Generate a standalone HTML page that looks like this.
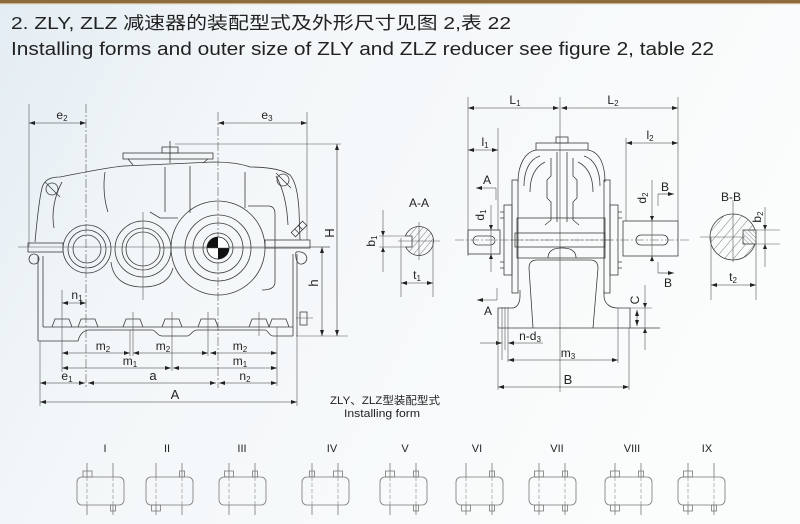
<!DOCTYPE html>
<html><head><meta charset="utf-8">
<style>
html,body{margin:0;padding:0;}
body{width:800px;height:524px;overflow:hidden;background:#f8fafb;}
svg{display:block;}
text{font-family:"Liberation Sans","Noto Sans CJK SC",sans-serif;fill:#222;}
.l{fill:none;stroke:#3c3c3c;stroke-width:0.8;}
.t{fill:none;stroke:#555;stroke-width:0.6;}
.c{fill:none;stroke:#555;stroke-width:0.6;stroke-dasharray:9 2 2 2;}
.d{fill:none;stroke:#333;stroke-width:0.6;}
.g{fill:none;stroke:#777;stroke-width:0.8;}
.gd{fill:none;stroke:#888;stroke-width:0.6;stroke-dasharray:4 2;}
</style></head><body>
<svg width="800" height="524" viewBox="0 0 800 524" xmlns="http://www.w3.org/2000/svg">
<defs>
<linearGradient id="bg" x1="0" y1="0" x2="1" y2="0.35">
 <stop offset="0" stop-color="#e4edf3"/>
 <stop offset="0.35" stop-color="#f3f7f9"/>
 <stop offset="1" stop-color="#fbfcfc"/>
</linearGradient>
<marker id="ar" markerWidth="6" markerHeight="4" refX="6" refY="2" orient="auto-start-reverse" markerUnits="userSpaceOnUse"><path d="M0,0 L6,2 L0,4z" fill="#222"/></marker>
<pattern id="h1" width="5" height="5" patternUnits="userSpaceOnUse" patternTransform="rotate(40)"><line x1="0" y1="0" x2="0" y2="5" stroke="#444" stroke-width="0.7"/></pattern>
<pattern id="h2" width="7" height="7" patternUnits="userSpaceOnUse" patternTransform="rotate(40)"><line x1="0" y1="0" x2="0" y2="7" stroke="#444" stroke-width="0.7"/></pattern>
<pattern id="h3" width="3" height="3" patternUnits="userSpaceOnUse" patternTransform="rotate(-45)"><line x1="0" y1="0" x2="0" y2="3" stroke="#444" stroke-width="0.6"/></pattern>
</defs>

<rect width="800" height="524" fill="url(#bg)"/>
<rect x="0" y="0" width="800" height="3" fill="#8d6b3c"/>
<rect x="0" y="3" width="800" height="1.2" fill="#c8b58e"/>

<!-- Header -->
<text x="11" y="29" font-size="17.5" textLength="500" lengthAdjust="spacingAndGlyphs">2. ZLY, ZLZ 减速器的装配型式及外形尺寸见图 2,表 22</text>
<text x="11" y="55" font-size="18" textLength="703" lengthAdjust="spacingAndGlyphs">Installing forms and outer size of ZLY and ZLZ reducer see figure 2, table 22</text>

<!-- ================= LEFT FRONT VIEW ================= -->
<!-- center / extension lines -->
<line class="c" x1="86" y1="104" x2="86" y2="388"/>
<line class="c" x1="218" y1="112" x2="218" y2="388"/>
<line class="t" x1="29" y1="104" x2="29" y2="247"/>
<line class="t" x1="307" y1="112" x2="307" y2="240"/>
<line class="d" x1="29" y1="123" x2="86" y2="123" marker-start="url(#ar)" marker-end="url(#ar)"/>
<line class="d" x1="218" y1="123" x2="307" y2="123" marker-start="url(#ar)" marker-end="url(#ar)"/>
<text x="62" y="119" font-size="12" text-anchor="middle">e<tspan font-size="8" dy="2">2</tspan></text>
<text x="267" y="119" font-size="12" text-anchor="middle">e<tspan font-size="8" dy="2">3</tspan></text>

<!-- H / h -->
<line class="t" x1="175" y1="144" x2="341" y2="144"/>
<line class="t" x1="296" y1="336" x2="348" y2="336"/>
<line class="t" x1="310" y1="247" x2="330" y2="247"/>
<line class="d" x1="337" y1="144" x2="337" y2="336" marker-start="url(#ar)" marker-end="url(#ar)"/>
<line class="d" x1="322" y1="247" x2="322" y2="336" marker-start="url(#ar)" marker-end="url(#ar)"/>
<text transform="translate(334,233) rotate(-90)" font-size="13" text-anchor="middle">H</text>
<text transform="translate(318,283) rotate(-90)" font-size="13" text-anchor="middle">h</text>

<!-- housing -->
<path class="l" d="M35,242 C37,220 39,200 42,188 C44,180 50,177 60,177 C85,172 110,167 124,166 L213,162 C230,162 242,164 250,167 C262,167 280,168 290,175 C296,182 298,195 299,210 L300,240"/>
<path class="l" d="M62,182 C55,195 51,212 54,228"/>
<path class="l" d="M276,176 C283,188 287,205 288,225"/>
<circle class="l" cx="52" cy="189" r="6"/><line class="l" x1="45" y1="182" x2="60" y2="197"/>
<circle class="l" cx="283" cy="180" r="6"/><line class="l" x1="276" y1="173" x2="291" y2="188"/>
<path class="l" d="M105,172 C103,185 104,200 108,212"/>
<line class="l" x1="165" y1="167" x2="165" y2="212"/>
<line class="l" x1="190" y1="166" x2="190" y2="213"/>
<line class="l" x1="245" y1="172" x2="245" y2="208"/>
<path class="l" d="M248,206 L268,206 C273,206 275,209 275,214 L275,282 C275,288 270,290 262,290"/>
<path class="l" d="M150,212 L160,218 L178,218"/>
<!-- top cover -->
<rect class="l" x="123" y="153" width="90" height="6"/>
<path class="l" d="M128,159 L133,165 M208,159 L203,163"/>
<rect class="l" x="162" y="147" width="16" height="6"/>
<line class="l" x1="170" y1="141" x2="170" y2="163"/>
<!-- vent plug -->
<g transform="translate(299,229) rotate(-45)"><rect class="l" x="-8" y="-3" width="16" height="6"/><line class="l" x1="-3" y1="-3" x2="-3" y2="3"/><line class="l" x1="2" y1="-3" x2="2" y2="3"/></g>

<!-- shafts -->
<rect class="l" x="28" y="243" width="35" height="9"/>
<rect class="l" x="265" y="240" width="45" height="8"/>
<line class="t" x1="18" y1="247" x2="330" y2="247"/>

<!-- gears -->
<circle class="l" cx="87" cy="249" r="24"/>
<circle class="l" cx="87" cy="249" r="19"/>
<circle class="l" cx="87" cy="249" r="14"/>
<circle class="l" cx="143" cy="249" r="28"/>
<circle class="l" cx="143" cy="249" r="21"/>
<circle class="l" cx="143" cy="249" r="17"/>
<path class="l" d="M111,262 C113,280 126,287 143,287 C160,287 170,280 173,268"/>
<line class="t" x1="143" y1="212" x2="143" y2="300"/>
<circle class="l" cx="218" cy="248" r="47"/>
<circle class="l" cx="218" cy="248" r="33"/>
<circle class="l" cx="218" cy="248" r="25"/>
<circle class="l" cx="218" cy="248" r="15"/>
<circle cx="218" cy="248" r="11" fill="#fff" stroke="#222" stroke-width="0.8"/>
<path d="M218,248 L207,248 A11,11 0 0 1 218,237 Z" fill="#111"/>
<path d="M218,248 L229,248 A11,11 0 0 1 218,259 Z" fill="#111"/>
<line class="t" x1="160" y1="248" x2="275" y2="248"/>

<!-- lower body -->
<circle class="l" cx="34" cy="259" r="5"/>
<path class="l" d="M296,252 C308,250 310,262 302,264 C297,265 295,258 296,252"/>
<line class="l" x1="38" y1="256" x2="38" y2="341"/>
<line class="l" x1="43" y1="256" x2="43" y2="327"/>
<line class="l" x1="293" y1="254" x2="293" y2="336"/>
<line class="l" x1="297" y1="254" x2="297" y2="336"/>
<line class="l" x1="43" y1="327" x2="293" y2="327"/>
<path class="l" d="M52,327 L55,319 L69,319 L72,327 M78,327 L81,319 L95,319 L98,327 M123,327 L126,319 L140,319 L143,327 M162,327 L165,319 L179,319 L182,327 M198,327 L201,319 L215,319 L218,327 M249,327 L252,319 L266,319 L269,327 M269,327 L272,319 L286,319 L289,327"/>
<path class="l" d="M38,341 L78,341 C80,333 84,330 90,330 L152,330 C156,330 157,336 162,336 L187,336 C191,336 192,330 197,330 L265,330 C268,330 269,336 273,336 L293,336"/>
<rect class="l" x="300" y="312" width="7" height="13"/>
<line class="t" x1="296" y1="318" x2="313" y2="318"/>
<line class="t" x1="133" y1="312" x2="133" y2="356"/>
<line class="t" x1="130" y1="330" x2="130" y2="356"/>
<line class="t" x1="172" y1="312" x2="172" y2="371"/>
<line class="t" x1="208" y1="312" x2="208" y2="356"/>
<line class="t" x1="259" y1="312" x2="259" y2="336"/>

<!-- bottom dims -->
<line class="t" x1="62" y1="290" x2="62" y2="372"/>
<line class="t" x1="40" y1="341" x2="40" y2="406"/>
<line class="t" x1="297" y1="336" x2="297" y2="406"/>
<line class="t" x1="277" y1="327" x2="277" y2="386"/>
<line class="d" x1="62" y1="303" x2="86" y2="303" marker-start="url(#ar)" marker-end="url(#ar)"/>
<text x="77" y="299" font-size="12" text-anchor="middle">n<tspan font-size="8" dy="2">1</tspan></text>
<line class="d" x1="62" y1="353" x2="130" y2="353" marker-start="url(#ar)" marker-end="url(#ar)"/>
<line class="d" x1="133" y1="353" x2="208" y2="353" marker-start="url(#ar)" marker-end="url(#ar)"/>
<line class="d" x1="210" y1="353" x2="277" y2="353" marker-start="url(#ar)" marker-end="url(#ar)"/>
<text x="103" y="350" font-size="12" text-anchor="middle">m<tspan font-size="8" dy="2">2</tspan></text>
<text x="163" y="350" font-size="12" text-anchor="middle">m<tspan font-size="8" dy="2">2</tspan></text>
<text x="240" y="350" font-size="12" text-anchor="middle">m<tspan font-size="8" dy="2">2</tspan></text>
<line class="d" x1="62" y1="368" x2="171" y2="368" marker-start="url(#ar)" marker-end="url(#ar)"/>
<line class="d" x1="173" y1="368" x2="277" y2="368" marker-start="url(#ar)" marker-end="url(#ar)"/>
<text x="130" y="365" font-size="12" text-anchor="middle">m<tspan font-size="8" dy="2">1</tspan></text>
<text x="240" y="365" font-size="12" text-anchor="middle">m<tspan font-size="8" dy="2">1</tspan></text>
<line class="d" x1="40" y1="383" x2="85" y2="383" marker-start="url(#ar)" marker-end="url(#ar)"/>
<line class="d" x1="88" y1="383" x2="216" y2="383" marker-start="url(#ar)" marker-end="url(#ar)"/>
<line class="d" x1="219" y1="383" x2="277" y2="383" marker-start="url(#ar)" marker-end="url(#ar)"/>
<text x="67" y="380" font-size="12" text-anchor="middle">e<tspan font-size="8" dy="2">1</tspan></text>
<text x="153" y="380" font-size="13" text-anchor="middle">a</text>
<text x="245" y="380" font-size="12" text-anchor="middle">n<tspan font-size="8" dy="2">2</tspan></text>
<line class="d" x1="40" y1="402" x2="297" y2="402" marker-start="url(#ar)" marker-end="url(#ar)"/>
<text x="175" y="399" font-size="13" text-anchor="middle">A</text>

<!-- caption -->
<text x="385" y="404" font-size="11" text-anchor="middle" textLength="110" lengthAdjust="spacingAndGlyphs">ZLY、ZLZ型装配型式</text>
<text x="382" y="417" font-size="11" text-anchor="middle" textLength="76" lengthAdjust="spacingAndGlyphs">Installing form</text>

<!-- ================= A-A ================= -->
<text x="419" y="207" font-size="12" text-anchor="middle">A-A</text>
<circle cx="419" cy="241" r="14.5" fill="url(#h1)" stroke="#3c3c3c" stroke-width="0.8"/>
<path d="M404,236 L412,236 L412,247 L404,247 Z" fill="#f8fafb" stroke="none"/>
<path class="l" d="M405,236 L412,236 L412,247 L405,247"/>
<line class="t" x1="398" y1="241" x2="440" y2="241"/>
<line class="t" x1="419" y1="222" x2="419" y2="260"/>
<line class="t" x1="379" y1="236" x2="412" y2="236"/>
<line class="t" x1="379" y1="247" x2="412" y2="247"/>
<line class="t" x1="383" y1="210" x2="383" y2="272"/>
<path d="M383,236 l-2,-5 l4,0z M383,247 l-2,5 l4,0z" fill="#222"/>
<text transform="translate(375,241) rotate(-90)" font-size="12" text-anchor="middle">b<tspan font-size="8" dy="2">1</tspan></text>
<line class="t" x1="401" y1="238" x2="401" y2="297"/>
<line class="t" x1="433" y1="241" x2="433" y2="297"/>
<line class="d" x1="401" y1="283" x2="433" y2="283" marker-start="url(#ar)" marker-end="url(#ar)"/>
<text x="417" y="279" font-size="12" text-anchor="middle">t<tspan font-size="8" dy="2">1</tspan></text>

<!-- ================= RIGHT SIDE VIEW ================= -->
<line class="t" x1="468" y1="97" x2="468" y2="256"/>
<line class="t" x1="560" y1="97" x2="560" y2="392"/>
<line class="t" x1="678" y1="97" x2="678" y2="221"/>
<line class="d" x1="468" y1="108" x2="559" y2="108" marker-start="url(#ar)" marker-end="url(#ar)"/>
<line class="d" x1="561" y1="108" x2="678" y2="108" marker-start="url(#ar)" marker-end="url(#ar)"/>
<text x="515" y="104" font-size="12" text-anchor="middle">L<tspan font-size="8" dy="2">1</tspan></text>
<text x="613" y="104" font-size="12" text-anchor="middle">L<tspan font-size="8" dy="2">2</tspan></text>
<line class="t" x1="498" y1="128" x2="498" y2="230"/>
<line class="d" x1="468" y1="150" x2="498" y2="150" marker-start="url(#ar)" marker-end="url(#ar)"/>
<text x="485" y="146" font-size="12" text-anchor="middle">l<tspan font-size="8" dy="2">1</tspan></text>
<line class="t" x1="626" y1="138" x2="626" y2="221"/>
<line class="d" x1="626" y1="143" x2="678" y2="143" marker-start="url(#ar)" marker-end="url(#ar)"/>
<text x="650" y="139" font-size="12" text-anchor="middle">l<tspan font-size="8" dy="2">2</tspan></text>

<!-- section marks -->
<text x="487" y="184" font-size="12" text-anchor="middle">A</text>
<line class="d" x1="496" y1="188" x2="476" y2="188" marker-end="url(#ar)"/>
<line class="t" x1="496" y1="188" x2="496" y2="200"/>
<line class="d" x1="497" y1="300" x2="477" y2="300" marker-end="url(#ar)"/>
<line class="t" x1="497" y1="288" x2="497" y2="300"/>
<text x="488" y="315" font-size="12" text-anchor="middle">A</text>
<text x="665" y="191" font-size="12" text-anchor="middle">B</text>
<line class="d" x1="658" y1="194" x2="674" y2="194" marker-end="url(#ar)"/>
<line class="t" x1="658" y1="194" x2="658" y2="206"/>
<line class="d" x1="658" y1="273" x2="674" y2="273" marker-end="url(#ar)"/>
<line class="t" x1="658" y1="262" x2="658" y2="273"/>
<text x="668" y="287" font-size="12" text-anchor="middle">B</text>

<!-- shafts -->
<rect class="l" x="468" y="230" width="32" height="24"/>
<rect class="l" x="473" y="236" width="22" height="9" rx="4.5"/>
<rect class="l" x="623" y="221" width="55" height="35"/>
<rect class="l" x="636" y="235" width="32" height="10" rx="5"/>
<line class="c" x1="455" y1="240" x2="690" y2="240"/>
<line class="t" x1="491" y1="205" x2="491" y2="272"/>
<path d="M491,230 l-2,-5 l4,0z M491,254 l-2,5 l4,0z" fill="#222"/>
<text transform="translate(484,215) rotate(-90)" font-size="12" text-anchor="middle">d<tspan font-size="8" dy="2">1</tspan></text>
<line class="t" x1="652" y1="180" x2="652" y2="262"/>
<path d="M652,221 l-2,-5 l4,0z M652,256 l-2,5 l4,0z" fill="#222"/>
<text transform="translate(646,198) rotate(-90)" font-size="12" text-anchor="middle">d<tspan font-size="8" dy="2">2</tspan></text>

<!-- body -->
<rect class="l" x="556" y="137" width="12" height="6"/>
<rect class="l" x="536" y="143" width="52" height="7"/>
<path class="l" d="M518,182 C518,165 525,152 536,150"/>
<path class="l" d="M588,150 C600,152 605,165 605,182"/>
<path class="l" d="M524,186 C524,170 530,159 540,156"/>
<path class="l" d="M530,192 C530,177 535,167 545,162"/>
<path class="l" d="M584,156 C594,159 600,170 600,186"/>
<path class="l" d="M578,162 C588,167 593,177 593,192"/>
<rect class="l" x="512" y="180" width="6" height="113"/>
<rect class="l" x="604" y="180" width="6" height="113"/>
<rect class="l" x="504" y="205" width="8" height="70"/>
<rect class="l" x="610" y="205" width="8" height="70"/>
<path class="l" d="M500,212 L504,212 M500,218 L504,218 M500,262 L504,262 M500,268 L504,268 M618,212 L622,212 M618,218 L622,218 M618,262 L622,262 M618,268 L622,268"/>
<line class="l" x1="557" y1="152" x2="557" y2="222"/>
<line class="l" x1="567" y1="152" x2="567" y2="222"/>
<path class="l" d="M551,158 L551,176 L547,180 L547,198 L551,202 L551,220 L545,225"/>
<path class="l" d="M573,158 L573,176 L577,180 L577,198 L573,202 L573,220 L579,225"/>
<rect class="l" x="517" y="218" width="88" height="40"/>
<rect class="l" x="515" y="233" width="90" height="14" fill="#f8fafb"/>
<line class="c" x1="510" y1="240" x2="612" y2="240"/>
<path class="l" d="M548,258 C548,250 555,248 562,248 C569,248 576,250 576,258"/>
<path class="l" d="M533,328 L529,268 C529,262 532,260 537,260 L590,260 C595,260 598,262 598,268 L593,328"/>
<path class="l" d="M498,328 L498,308 L512,308 C517,308 520,303 520,296 L520,290"/>
<path class="l" d="M604,290 L604,297 C605,304 610,308 618,308 L630,308 L630,328"/>
<line class="l" x1="498" y1="328" x2="660" y2="328"/>
<line class="t" x1="630" y1="308" x2="652" y2="308"/>

<!-- C -->
<line class="t" x1="645" y1="285" x2="645" y2="350"/>
<path d="M645,308 l-2,-5 l4,0z M645,328 l-2,5 l4,0z" fill="#222"/>
<line class="d" x1="637" y1="310" x2="637" y2="326" marker-start="url(#ar)" marker-end="url(#ar)"/>
<text transform="translate(639,300) rotate(-90)" font-size="12" text-anchor="middle">C</text>

<!-- n-d3, m3, B -->
<line class="t" x1="502" y1="307" x2="502" y2="360"/>
<line class="t" x1="505" y1="307" x2="505" y2="350"/>
<line class="t" x1="508" y1="307" x2="508" y2="362"/>
<line class="d" x1="480" y1="343" x2="502" y2="343" marker-end="url(#ar)"/>
<line class="d" x1="543" y1="343" x2="508" y2="343" marker-end="url(#ar)"/>
<text x="530" y="340" font-size="12" text-anchor="middle">n-d<tspan font-size="8" dy="2">3</tspan></text>
<line class="t" x1="618" y1="308" x2="618" y2="363"/>
<line class="d" x1="508" y1="360" x2="618" y2="360" marker-start="url(#ar)" marker-end="url(#ar)"/>
<text x="568" y="357" font-size="12" text-anchor="middle">m<tspan font-size="8" dy="2">3</tspan></text>
<line class="t" x1="498" y1="328" x2="498" y2="390"/>
<line class="t" x1="629" y1="328" x2="629" y2="390"/>
<line class="d" x1="498" y1="387" x2="629" y2="387" marker-start="url(#ar)" marker-end="url(#ar)"/>
<text x="568" y="384" font-size="13" text-anchor="middle">B</text>

<!-- ================= B-B ================= -->
<text x="731" y="201" font-size="12" text-anchor="middle">B-B</text>
<circle cx="733" cy="237" r="23" fill="url(#h2)" stroke="#3c3c3c" stroke-width="0.8"/>
<rect x="743" y="230" width="16" height="14" fill="#f8fafb"/>
<rect x="743" y="230" width="13" height="14" fill="url(#h3)" stroke="#3c3c3c" stroke-width="0.8"/>
<line class="t" x1="733" y1="200" x2="733" y2="262"/>
<line class="t" x1="700" y1="237" x2="745" y2="237"/>
<line class="t" x1="750" y1="230" x2="780" y2="230"/>
<line class="t" x1="750" y1="244" x2="780" y2="244"/>
<line class="t" x1="765" y1="207" x2="765" y2="267"/>
<path d="M765,230 l-2,-5 l4,0z M765,244 l-2,5 l4,0z" fill="#222"/>
<text transform="translate(761,217) rotate(-90)" font-size="12" text-anchor="middle">b<tspan font-size="8" dy="2">2</tspan></text>
<line class="t" x1="711" y1="237" x2="711" y2="300"/>
<line class="t" x1="756" y1="244" x2="756" y2="300"/>
<line class="d" x1="711" y1="285" x2="756" y2="285" marker-start="url(#ar)" marker-end="url(#ar)"/>
<text x="733" y="281" font-size="12" text-anchor="middle">t<tspan font-size="8" dy="2">2</tspan></text>

<!-- ================= MOUNTING FORMS ================= -->
<g font-size="11">
<text x="105" y="452" text-anchor="middle">I</text>
<text x="167" y="452" text-anchor="middle">II</text>
<text x="242" y="452" text-anchor="middle">III</text>
<text x="332" y="452" text-anchor="middle">IV</text>
<text x="405" y="452" text-anchor="middle">V</text>
<text x="477" y="452" text-anchor="middle">VI</text>
<text x="557" y="452" text-anchor="middle">VII</text>
<text x="632" y="452" text-anchor="middle">VIII</text>
<text x="707" y="452" text-anchor="middle">IX</text>
</g>

<!-- I -->
<g transform="translate(77,0)">
<rect class="g" x="0" y="477" width="47" height="28" rx="5"/>
<path class="g" d="M10,463 L10,477 M10,505 L10,515 M36,463 L36,477 M36,505 L36,515"/>
<path class="gd" d="M10,477 L10,505 M36,477 L36,505"/>
<rect class="g" x="6" y="471" width="9" height="6"/><rect class="g" x="33.5" y="505" width="5" height="6"/>
</g>
<!-- II -->
<g transform="translate(146,0)">
<rect class="g" x="0" y="477" width="47" height="28" rx="5"/>
<path class="g" d="M10,463 L10,477 M10,505 L10,515 M36,463 L36,477 M36,505 L36,515"/>
<path class="gd" d="M10,477 L10,505 M36,477 L36,505"/>
<rect class="g" x="5.5" y="505" width="9" height="6"/><rect class="g" x="33.5" y="471" width="5" height="6"/>
</g>
<!-- III -->
<g transform="translate(219,0)">
<rect class="g" x="0" y="477" width="47" height="28" rx="5"/>
<path class="g" d="M10,463 L10,477 M10,505 L10,515 M36,463 L36,477 M36,505 L36,515"/>
<path class="gd" d="M10,477 L10,505 M36,477 L36,505"/>
<rect class="g" x="5.5" y="471" width="9" height="6"/><rect class="g" x="33.5" y="471" width="5" height="6"/>
</g>
<!-- IV -->
<g transform="translate(302,0)">
<rect class="g" x="0" y="477" width="47" height="28" rx="5"/>
<path class="g" d="M10,463 L10,477 M10,505 L10,515 M36,463 L36,477 M36,505 L36,515"/>
<path class="gd" d="M10,477 L10,505 M36,477 L36,505"/>
<rect class="g" x="7.5" y="471" width="5" height="6"/><rect class="g" x="31.5" y="471" width="9" height="6"/>
</g>
<!-- V -->
<g transform="translate(380,0)">
<rect class="g" x="0" y="477" width="47" height="28" rx="5"/>
<path class="g" d="M10,463 L10,477 M10,505 L10,515 M36,463 L36,477 M36,505 L36,515"/>
<path class="gd" d="M10,477 L10,505 M36,477 L36,505"/>
<rect class="g" x="5.5" y="471" width="9" height="6"/><rect class="g" x="33.5" y="471" width="5" height="6"/><rect class="g" x="33.5" y="505" width="5" height="6"/>
</g>
<!-- VI -->
<g transform="translate(456,0)">
<rect class="g" x="0" y="477" width="47" height="28" rx="5"/>
<path class="g" d="M10,463 L10,477 M10,505 L10,515 M36,463 L36,477 M36,505 L36,515"/>
<path class="gd" d="M10,477 L10,505 M36,477 L36,505"/>
<rect class="g" x="5.5" y="505" width="9" height="6"/><rect class="g" x="33.5" y="471" width="5" height="6"/><rect class="g" x="33.5" y="505" width="5" height="6"/>
</g>
<!-- VII -->
<g transform="translate(529,0)">
<rect class="g" x="0" y="477" width="47" height="28" rx="5"/>
<path class="g" d="M10,463 L10,477 M10,505 L10,515 M36,463 L36,477 M36,505 L36,515"/>
<path class="gd" d="M10,477 L10,505 M36,477 L36,505"/>
<rect class="g" x="5.5" y="471" width="9" height="6"/><rect class="g" x="5.5" y="505" width="9" height="6"/><rect class="g" x="33.5" y="471" width="5" height="6"/><rect class="g" x="33.5" y="505" width="5" height="6"/>
</g>
<!-- VIII -->
<g transform="translate(605,0)">
<rect class="g" x="0" y="477" width="47" height="28" rx="5"/>
<path class="g" d="M10,463 L10,477 M10,505 L10,515 M36,463 L36,477 M36,505 L36,515"/>
<path class="gd" d="M10,477 L10,505 M36,477 L36,505"/>
<rect class="g" x="5.5" y="471" width="9" height="6"/><rect class="g" x="5.5" y="505" width="9" height="6"/><rect class="g" x="33.5" y="471" width="5" height="6"/>
</g>
<!-- IX -->
<g transform="translate(678,0)">
<rect class="g" x="0" y="477" width="47" height="28" rx="5"/>
<path class="g" d="M10,463 L10,477 M10,505 L10,515 M36,463 L36,477 M36,505 L36,515"/>
<path class="gd" d="M10,477 L10,505 M36,477 L36,505"/>
<rect class="g" x="5.5" y="471" width="9" height="6"/><rect class="g" x="5.5" y="505" width="9" height="6"/><rect class="g" x="33.5" y="505" width="5" height="6"/>
</g>

</svg>
</body></html>
